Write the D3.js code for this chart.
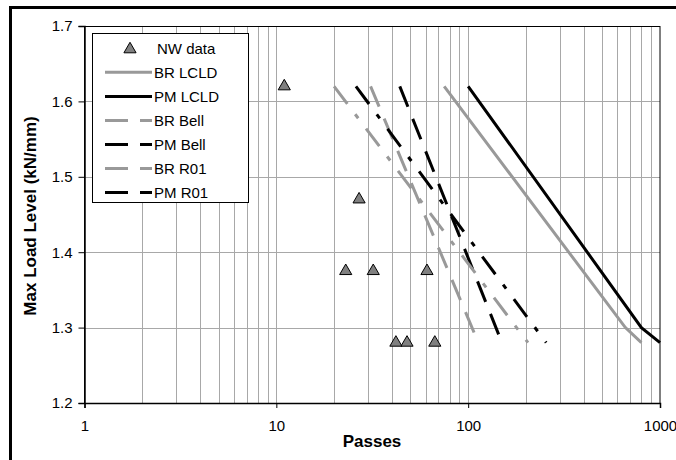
<!DOCTYPE html>
<html>
<head>
<meta charset="utf-8">
<script src="https://cdn.jsdelivr.net/npm/d3@7"></script>
<style>
  html, body { margin: 0; padding: 0; background: #fff; }
  svg { display: block; }
  text { font-family: Arial, "Liberation Sans", sans-serif; fill: #000; }
</style>
</head>
<body>
<svg id="chart" width="676" height="460"></svg>
<script>
// Measured NW data points
const nwPasses = [11, 27, 23, 32, 61, 42, 48, 67];
const nwLoad   = [1.62, 1.47, 1.375, 1.375, 1.375, 1.28, 1.28, 1.28];

// Predicted passes vs. load level for each model
const lcldLoad   = [1.62, 1.3, 1.28];
const brLcldPass = [75, 660, 800];
const pmLcldPass = [100, 800, 1000];

const lineLoad   = [1.62, 1.28];
const brBellPass = [31, 113];
const pmBellPass = [44, 150];
const brR01Pass  = [20, 205];
const pmR01Pass  = [26, 255];

const yTicks = [1.2, 1.3, 1.4, 1.5, 1.6, 1.7];
const xTicks = [1, 10, 100, 1000];

const seriesNames = ["BR LCLD", "PM LCLD", "BR Bell", "PM Bell", "BR R01", "PM R01"];

const GRAY = "#999999";
const BELL_DASH = "22,13";
const R01_DASH = "22,13,5,13";

const series = [
  { name: seriesNames[0], pass: brLcldPass, load: lcldLoad, color: GRAY,   dash: null },
  { name: seriesNames[1], pass: pmLcldPass, load: lcldLoad, color: "#000", dash: null },
  { name: seriesNames[2], pass: brBellPass, load: lineLoad, color: GRAY,   dash: BELL_DASH },
  { name: seriesNames[3], pass: pmBellPass, load: lineLoad, color: "#000", dash: BELL_DASH },
  { name: seriesNames[4], pass: brR01Pass,  load: lineLoad, color: GRAY,   dash: R01_DASH },
  { name: seriesNames[5], pass: pmR01Pass,  load: lineLoad, color: "#000", dash: R01_DASH }
];

const svg = d3.select("#chart");
const plotL = 84.5, plotR = 660, plotT = 26, plotB = 403;

const x = d3.scaleLog().domain([1, 1000]).range([plotL, plotR]);
const y = d3.scaleLinear().domain([1.2, 1.7]).range([plotB, plotT]);

// outer frame
svg.append("rect")
  .attr("x", 10.5).attr("y", 7.5).attr("width", 700).attr("height", 500)
  .attr("fill", "#fff").attr("stroke", "#000").attr("stroke-width", 3);

// minor vertical grid (2..9 within each decade, plus 10 and 100)
const gridX = [];
[1, 10, 100].forEach(d => { for (let k = 2; k <= 10; k++) gridX.push(d * k); });
const gridXVals = gridX.filter(v => v < 1000);

svg.append("g").selectAll("line").data(gridXVals).join("line")
  .attr("x1", d => Math.round(x(d)) + 0.5).attr("x2", d => Math.round(x(d)) + 0.5)
  .attr("y1", plotT).attr("y2", plotB)
  .attr("stroke", "#a8a8a8").attr("stroke-width", 1);

svg.append("g").selectAll("line").data(yTicks.slice(1, -1)).join("line")
  .attr("x1", plotL).attr("x2", plotR)
  .attr("y1", d => Math.round(y(d)) + 0.5).attr("y2", d => Math.round(y(d)) + 0.5)
  .attr("stroke", "#a8a8a8").attr("stroke-width", 1);

// plot area border
svg.append("rect")
  .attr("x", plotL).attr("y", plotT + 0.5)
  .attr("width", plotR - plotL).attr("height", plotB - plotT)
  .attr("fill", "none").attr("stroke", "#000").attr("stroke-width", 1);

// axes
const yAxis = svg.append("g").attr("transform", `translate(${plotL},0)`)
  .call(d3.axisLeft(y).tickValues(yTicks).tickFormat(d3.format(".1f")).tickSize(6).tickPadding(6));
const xAxis = svg.append("g").attr("transform", `translate(0,${plotB})`)
  .call(d3.axisBottom(x).tickValues(xTicks).tickFormat(d3.format("d")).tickSize(5).tickPadding(12));
[yAxis, xAxis].forEach(g => {
  g.select(".domain").attr("stroke", "#000").attr("stroke-width", 1.5);
  g.selectAll(".tick line").attr("stroke", "#000");
  g.selectAll(".tick text").attr("font-size", "15px").attr("fill", "#000")
    .attr("font-family", "Arial, 'Liberation Sans', sans-serif");
});

// series lines
const line = d3.line().x(d => x(d[0])).y(d => y(d[1]));
series.forEach(s => {
  svg.append("path")
    .datum(s.pass.map((p, i) => [p, s.load[i]]))
    .attr("d", line)
    .attr("fill", "none")
    .attr("stroke", s.color)
    .attr("stroke-width", 3)
    .attr("stroke-dasharray", s.dash)
    .attr("stroke-linecap", "butt");
});

// NW data triangles
const tri = d3.symbol().type(d3.symbolTriangle).size(64);
svg.append("g").selectAll("path").data(nwPasses.map((p, i) => [p, nwLoad[i]])).join("path")
  .attr("d", tri)
  .attr("transform", d => `translate(${x(d[0])},${y(d[1])})`)
  .attr("fill", "#808080").attr("stroke", "#000").attr("stroke-width", 1);

// axis titles
svg.append("text")
  .attr("x", 372).attr("y", 447)
  .attr("text-anchor", "middle").attr("font-size", "17px").attr("font-weight", "bold")
  .text("Passes");
svg.append("text")
  .attr("transform", "translate(36,216) rotate(-90)")
  .attr("text-anchor", "middle").attr("font-size", "17px").attr("font-weight", "bold")
  .text("Max Load Level (kN/mm)");

// legend
const lg = svg.append("g");
lg.append("rect")
  .attr("x", 92.5).attr("y", 33.5).attr("width", 156).attr("height", 169)
  .attr("fill", "#fff").attr("stroke", "#000").attr("stroke-width", 1);

const rowY = i => 48.3 + i * 24.05;
lg.append("path").attr("d", tri)
  .attr("transform", `translate(130,${rowY(0) + 1})`)
  .attr("fill", "#808080").attr("stroke", "#000").attr("stroke-width", 1);
lg.append("text").attr("x", 157).attr("y", rowY(0)).attr("dy", "0.36em")
  .attr("font-size", "15px").text("NW data");

series.forEach((s, i) => {
  const yy = rowY(i + 1);
  lg.append("line")
    .attr("x1", 105).attr("x2", 152).attr("y1", yy).attr("y2", yy)
    .attr("stroke", s.color).attr("stroke-width", 3)
    .attr("stroke-dasharray", s.dash ? "23,12" : null);
  lg.append("text").attr("x", 154).attr("y", yy).attr("dy", "0.36em")
    .attr("font-size", "15px").text(s.name);
});
</script>
</body>
</html>
